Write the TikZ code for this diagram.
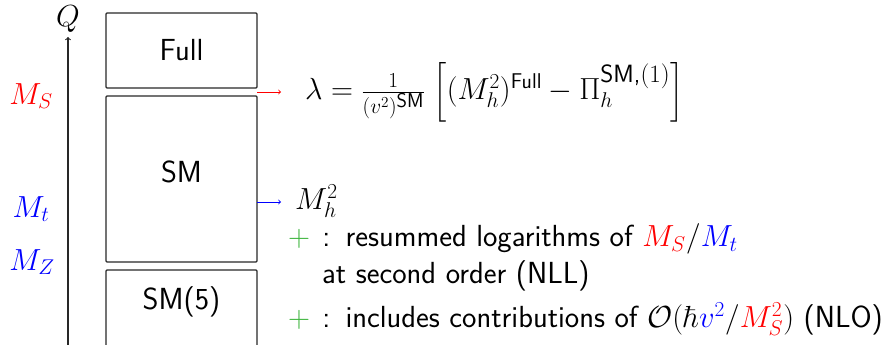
\RequirePackage{fix-cm}
\documentclass[tikz,border=0pt]{standalone}
\usepackage{amsmath}
\definecolor{plusgreen}{RGB}{60,180,60}
\definecolor{framegray}{RGB}{40,40,40}
\newcommand{\bigfont}{\fontsize{30.5}{36}\selectfont\sffamily}
\newcommand{\fixsf}[2]{\mbox{\fontsize{#1}{#1}\selectfont\sffamily #2}}
\newcommand{\plusmark}{\textcolor{plusgreen}{$+$}\hspace{0.4em}:\hspace{0.5em}}
\tikzset{
  box/.style={draw=framegray, line width=1.1pt, rounded corners=1pt, minimum width=151pt, inner sep=0pt},
  lbl/.style={inner sep=0pt, font=\bigfont},
  scalearrow/.style={->, line width=0.9pt}
}
\begin{document}
\begin{tikzpicture}[x=1pt, y=-1pt]
\useasboundingbox (0,0) rectangle (888,345);
% axis
\coordinate (axb) at (68,350);
\coordinate (axt) at (68,37);
\draw[->, framegray, line width=1.1pt] (axb) -- (axt);
\node[lbl] (q) at (68,19) {$Q$};
% boxes
\node[box, minimum height=75pt] (full) at (181.5,50.5) {};
\node[lbl] (fulltxt) at (181.5,50) {Full};
\node[box, minimum height=166pt] (sm) at (181.5,179) {};
\node[lbl] (smtxt) at (181.5,172) {SM};
\node[box, minimum height=110pt] (smf) at (181.5,325) {};
\node[lbl] (smftxt) at (181.5,302) {SM(5)};
% scale labels
\node[lbl, text=red] (ms) at (31,96) {$M_S$};
\node[lbl, text=blue] (mt) at (31,209) {$M_t$};
\node[lbl, text=blue] (mz) at (32,262) {$M_Z$};
% arrows
\coordinate (ra) at (257,92);
\coordinate (rb) at (281,92);
\draw[scalearrow, red] (ra) -- (rb);
\coordinate (ba) at (257,202);
\coordinate (bb) at (281,202);
\draw[scalearrow, blue] (ba) -- (bb);
% formulas
\node[lbl, anchor=west] (lam) at (305,92) {$\lambda = \frac{1}{(v^2)^{\fixsf{20}{SM}}}\;\Big[(M_h^2)^{\textsf{Full}} - \Pi_h^{\fixsf{25}{SM,\textrm{(1)}}}\Big]$};
\node[lbl, anchor=west] (mh) at (295,201) {$M_h^2$};
\node[lbl, anchor=west] (l1) at (288,239) {\plusmark resummed logarithms of $\color{red}M_S\color{black}/\color{blue}M_t$};
\node[lbl, anchor=west] (l2) at (322,276) {at second order (NLL)};
\node[lbl, anchor=west] (l3) at (288,319) {\plusmark includes contributions of $\mathcal{O}(\hbar {\color{blue}v^2}/{\color{red}M_S^2})$ (NLO)};
\end{tikzpicture}
\end{document}
